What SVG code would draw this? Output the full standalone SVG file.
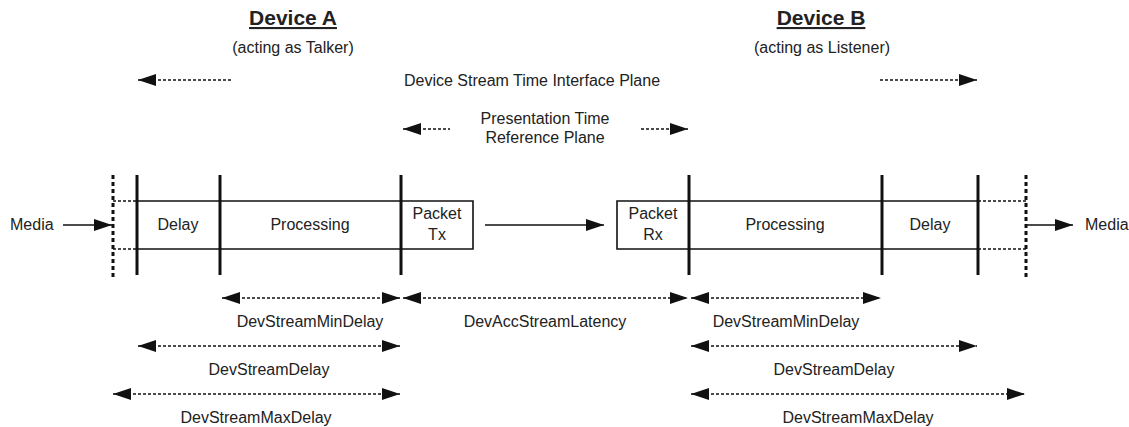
<svg xmlns="http://www.w3.org/2000/svg" width="1129" height="427" viewBox="0 0 1129 427">
<style>
text{font-family:"Liberation Sans",Arial,sans-serif;font-size:16px;fill:#222;text-anchor:middle}
.title{font-size:21px;font-weight:bold;text-decoration:underline}
.box{fill:none;stroke:#111;stroke-width:1.6}
.thick{stroke:#111;stroke-width:3}
.dv{stroke:#111;stroke-width:3;stroke-dasharray:4,3}
.dh{stroke:#111;stroke-width:1.6;stroke-dasharray:3,2}
.da{stroke:#111;stroke-width:1.6;stroke-dasharray:3,2;fill:none}
.sa{stroke:#111;stroke-width:1.6;fill:none}
.ar{marker-end:url(#ah)}
.al{marker-start:url(#ah)}
.ab{marker-start:url(#ah);marker-end:url(#ah)}
</style>
<defs>
<marker id="ah" markerUnits="userSpaceOnUse" markerWidth="18" markerHeight="12" refX="18" refY="6" orient="auto-start-reverse">
<path d="M0,0 L18,6 L0,12 z" fill="#111"/>
</marker>
</defs>
<g id="headerA">
<text class="title" x="293" y="25">Device A</text>
<text x="293" y="53">(acting as Talker)</text>
</g>
<g id="headerB">
<text class="title" x="821" y="25">Device B</text>
<text x="822" y="53">(acting as Listener)</text>
</g>
<g id="planes">
<text x="532" y="86">Device Stream Time Interface Plane</text>
<text x="545" y="124">Presentation Time</text>
<text x="545" y="143">Reference Plane</text>
</g>
<g id="deviceA">
<line class="dv" x1="113" y1="175" x2="113" y2="278"/>
<line class="dh" x1="113" y1="201" x2="137" y2="201"/>
<line class="dh" x1="113" y1="249" x2="137" y2="249"/>
<path class="box" d="M137,201 H473 V249 H137"/>
<line class="thick" x1="137" y1="175" x2="137" y2="275"/>
<line class="thick" x1="220" y1="175" x2="220" y2="275"/>
<line class="thick" x1="401" y1="175" x2="401" y2="275"/>
<text x="10" y="230" style="text-anchor:start">Media</text>
<text x="178" y="230">Delay</text>
<text x="310" y="230">Processing</text>
<text x="437" y="219">Packet</text>
<text x="437" y="240">Tx</text>
</g>
<g id="deviceB">
<path class="box" d="M978,201 H617 V249 H978"/>
<line class="dh" x1="978" y1="201" x2="1026" y2="201"/>
<line class="dh" x1="978" y1="249" x2="1026" y2="249"/>
<line class="dv" x1="1026" y1="175" x2="1026" y2="278"/>
<line class="thick" x1="689" y1="175" x2="689" y2="275"/>
<line class="thick" x1="882" y1="175" x2="882" y2="275"/>
<line class="thick" x1="978" y1="175" x2="978" y2="275"/>
<text x="653" y="219">Packet</text>
<text x="653" y="240">Rx</text>
<text x="785" y="230">Processing</text>
<text x="930" y="230">Delay</text>
<text x="1085" y="230" style="text-anchor:start">Media</text>
</g>
<g id="connectors">
<line class="da al" x1="138" y1="80" x2="233" y2="80"/>
<line class="da ar" x1="880" y1="80" x2="977" y2="80"/>
<line class="da al" x1="403" y1="129" x2="450" y2="129"/>
<line class="da ar" x1="641" y1="129" x2="688" y2="129"/>
<line class="sa ar" x1="63" y1="225" x2="112" y2="225"/>
<line class="sa ar" x1="485" y1="225" x2="604" y2="225"/>
<line class="sa ar" x1="1026" y1="225" x2="1073" y2="225"/>
<line class="da ab" x1="222" y1="298" x2="400" y2="298"/>
<line class="da ab" x1="403" y1="298" x2="688" y2="298"/>
<line class="da ab" x1="691" y1="298" x2="881" y2="298"/>
<line class="da ab" x1="138" y1="346" x2="400" y2="346"/>
<line class="da ab" x1="691" y1="346" x2="977" y2="346"/>
<line class="da ab" x1="113" y1="394" x2="400" y2="394"/>
<line class="da ab" x1="691" y1="394" x2="1025" y2="394"/>
</g>
<g id="labels">
<text x="310" y="327">DevStreamMinDelay</text>
<text x="545" y="327">DevAccStreamLatency</text>
<text x="786" y="327">DevStreamMinDelay</text>
<text x="269" y="375">DevStreamDelay</text>
<text x="834" y="375">DevStreamDelay</text>
<text x="256" y="423">DevStreamMaxDelay</text>
<text x="858" y="423">DevStreamMaxDelay</text>
</g>
</svg>
